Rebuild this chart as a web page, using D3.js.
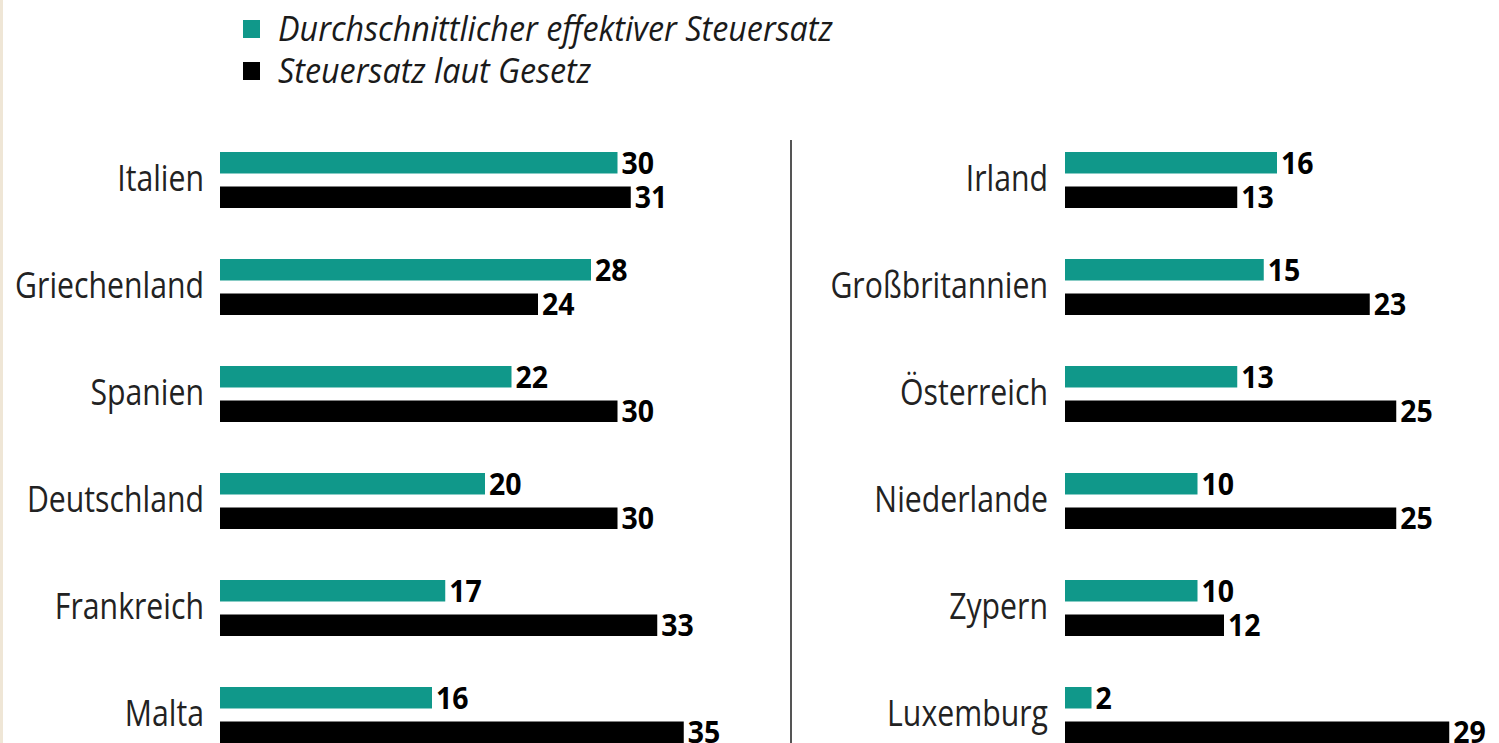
<!DOCTYPE html>
<html lang="de">
<head>
    <meta charset="UTF-8">
    <title>Steuersätze</title>
    <script src="https://d3js.org/d3.v7.min.js"></script>
    <style>
        body { margin: 0; background: #fff; }
        svg { display: block; }
    </style>
</head>
<body>
    <div id="chart"></div>
    <script>
        // Daten
        var seriesNames = ["Durchschnittlicher effektiver Steuersatz", "Steuersatz laut Gesetz"];
        var leftCountries = ["Italien", "Griechenland", "Spanien", "Deutschland", "Frankreich", "Malta"];
        var leftEffective = [30, 28, 22, 20, 17, 16];
        var leftLaw = [31, 24, 30, 30, 33, 35];
        var rightCountries = ["Irland", "Großbritannien", "Österreich", "Niederlande", "Zypern", "Luxemburg"];
        var rightEffective = [16, 15, 13, 10, 10, 2];
        var rightLaw = [13, 23, 25, 25, 12, 29];

        var colors = ["#10988a", "#000000"];
        var width = 1499, height = 743;
        var squeeze = 0.84;

        var svg = d3.select("#chart").append("svg")
            .attr("width", width)
            .attr("height", height);

        // beige border on the left edge
        svg.append("rect")
            .attr("x", 0).attr("y", 0)
            .attr("width", 3).attr("height", height)
            .attr("fill", "#efe6d6");

        // legend
        var legend = svg.append("g").attr("transform", "translate(243,0)");
        seriesNames.forEach(function(name, i) {
            var y = 29 + i * 42;
            legend.append("rect")
                .attr("x", 0).attr("y", y - 9)
                .attr("width", 17).attr("height", 18)
                .attr("fill", colors[i]);
            legend.append("text")
                .attr("transform", "translate(35," + (y + 12) + ") scale(0.95,1)")
                .attr("font-family", "'Open Sans', sans-serif")
                .attr("font-style", "italic")
                .attr("font-size", 34)
                .attr("fill", "#1a1a1a")
                .text(name);
        });

        var x = d3.scaleLinear().domain([0, 35]).range([0, 463.75]);

        function panel(x0, labelRight, countries, eff, law) {
            var rows = countries.map(function(c, i) {
                return { country: c, values: [eff[i], law[i]] };
            });

            var y = d3.scaleBand()
                .domain(countries)
                .range([152, 743])
                .paddingInner(51 / 107)
                .paddingOuter(0);

            var y1 = d3.scaleBand()
                .domain([0, 1])
                .range([0, y.bandwidth()])
                .paddingInner(0.377);

            var g = svg.append("g");

            var group = g.selectAll(".row")
                .data(rows)
                .join("g")
                .attr("class", "row")
                .attr("transform", function(d) { return "translate(0," + y(d.country) + ")"; });

            group.append("text")
                .attr("transform", "translate(" + labelRight + "," + (y.bandwidth() / 2 + 11) + ") scale(" + squeeze + ",1)")
                .attr("text-anchor", "end")
                .attr("font-family", "'Open Sans', sans-serif")
                .attr("font-size", 36)
                .attr("fill", "#222")
                .text(function(d) { return d.country; });

            var bars = group.selectAll(".bar")
                .data(function(d) { return d.values.map(function(v, i) { return { v: v, i: i }; }); })
                .join("g")
                .attr("class", "bar");

            bars.append("rect")
                .attr("x", x0)
                .attr("y", function(d) { return y1(d.i); })
                .attr("width", function(d) { return x(d.v); })
                .attr("height", y1.bandwidth())
                .attr("fill", function(d) { return colors[d.i]; });

            bars.append("text")
                .attr("transform", function(d) {
                    return "translate(" + (x0 + x(d.v) + 4) + "," + (y1(d.i) + y1.bandwidth() / 2 + 11) + ") scale(0.95,1)";
                })
                .attr("font-family", "'Open Sans', sans-serif")
                .attr("font-weight", 700)
                .attr("font-size", 30)
                .attr("fill", "#000")
                .text(function(d) { return d.v; });
        }

        panel(220, 204, leftCountries, leftEffective, leftLaw);
        panel(1065, 1048, rightCountries, rightEffective, rightLaw);

        // divider
        svg.append("line")
            .attr("x1", 791).attr("x2", 791)
            .attr("y1", 140).attr("y2", height)
            .attr("stroke", "#555")
            .attr("stroke-width", 2);
    </script>
</body>
</html>
